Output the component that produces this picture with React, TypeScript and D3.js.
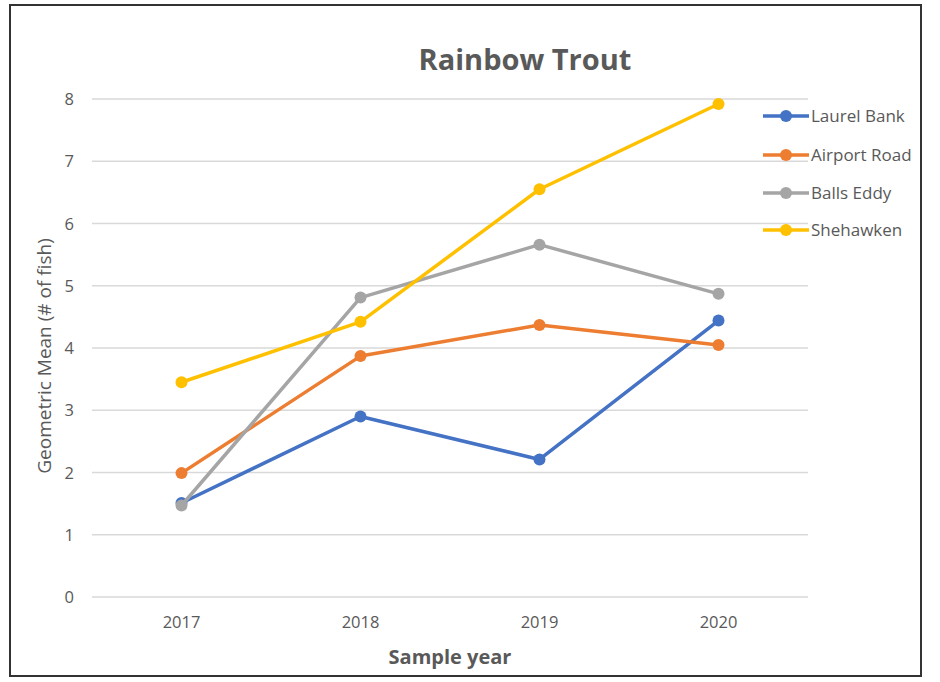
import React from "react";
import * as d3 from "d3";

const years = ["2017", "2018", "2019", "2020"];
const seriesNames = ["Laurel Bank", "Airport Road", "Balls Eddy", "Shehawken"];
const laurelBank = [1.51, 2.9, 2.21, 4.44];
const airportRoad = [1.99, 3.87, 4.37, 4.05];
const ballsEddy = [1.47, 4.81, 5.66, 4.87];
const shehawken = [3.45, 4.42, 6.55, 7.92];
const seriesColors = ["#4472C4", "#ED7D31", "#A5A5A5", "#FFC000"];
const yTicks = [0, 1, 2, 3, 4, 5, 6, 7, 8];

export default function App() {
  const W = 940, H = 682;
  const x = d3.scaleBand<string>().domain(years).range([92, 808]);
  const y = d3.scaleLinear().domain([0, 8]).range([597, 99]);
  const cx = (yr: string) => (x(yr) as number) + x.bandwidth() / 2;
  const data = [laurelBank, airportRoad, ballsEddy, shehawken];
  const line = d3.line<number>().x((_, i) => cx(years[i])).y((d) => y(d));
  const font = "'Open Sans', sans-serif";
  const legendY = [116, 155, 193, 230];
  return (
    <svg width={W} height={H} style={{ position: "absolute", left: 0, top: 0, background: "#fff" }}>
      <rect x={10} y={5} width={911} height={671} fill="#fff" stroke="#333" strokeWidth={2} />
      <text x={525} y={70} textAnchor="middle" fontFamily={font} fontWeight={700} fontSize={29} fill="#595959">Rainbow Trout</text>
      {yTicks.map((t) => (
        <g key={t}>
          <line x1={92} x2={808} y1={y(t)} y2={y(t)} stroke="#d9d9d9" strokeWidth={1.5} />
          <text x={74} y={y(t) + 6} textAnchor="end" fontFamily={font} fontSize={16.5} fill="#595959">{t}</text>
        </g>
      ))}
      {years.map((yr) => (
        <text key={yr} x={cx(yr)} y={628} textAnchor="middle" fontFamily={font} fontSize={16.5} fill="#595959">{yr}</text>
      ))}
      <text x={450} y={664} textAnchor="middle" fontFamily={font} fontWeight={700} fontSize={20} fill="#595959">Sample year</text>
      <text transform="translate(51,356) rotate(-90)" textAnchor="middle" fontFamily={font} fontSize={19} fill="#595959">Geometric Mean (# of fish)</text>
      {data.map((vals, si) => (
        <g key={si}>
          <path d={line(vals) || ""} fill="none" stroke={seriesColors[si]} strokeWidth={3.5} strokeLinejoin="round" />
          {vals.map((v, i) => (
            <circle key={i} cx={cx(years[i])} cy={y(v)} r={6} fill={seriesColors[si]} />
          ))}
        </g>
      ))}
      {seriesNames.map((n, si) => (
        <g key={n}>
          <line x1={763} x2={809} y1={legendY[si]} y2={legendY[si]} stroke={seriesColors[si]} strokeWidth={3.5} />
          <circle cx={786} cy={legendY[si]} r={6} fill={seriesColors[si]} />
          <text x={811} y={legendY[si] + 6} fontFamily={font} fontSize={17} fill="#595959">{n}</text>
        </g>
      ))}
    </svg>
  );
}
